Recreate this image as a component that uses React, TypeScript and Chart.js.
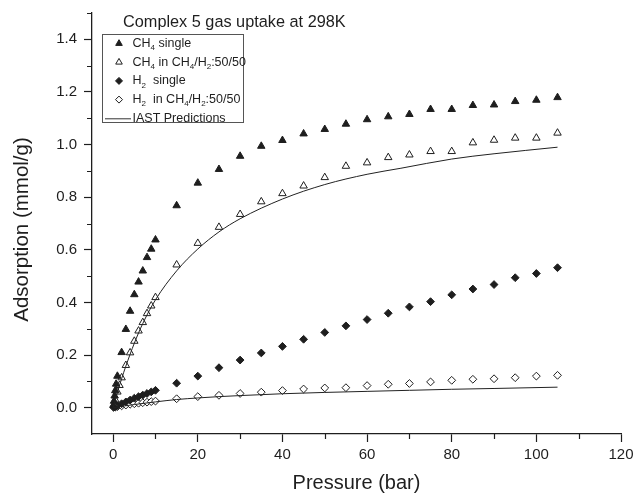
import React, { useEffect, useRef } from 'react';
import { Chart, registerables } from 'chart.js';

Chart.register(...registerables);

// ---- Data (pressure in bar, adsorption in mmol/g) ----
const ch4SingleP = [0.1, 0.2, 0.35, 0.5, 0.7, 1, 2, 3, 4, 5, 6, 7, 8, 9, 10, 15, 20, 25, 30, 35, 40, 45, 50, 55, 60, 65, 70, 75, 80, 85, 90, 95, 100, 105];
const ch4SingleQ = [0.01, 0.025, 0.045, 0.065, 0.09, 0.12, 0.21, 0.298, 0.367, 0.43, 0.478, 0.52, 0.571, 0.603, 0.638, 0.768, 0.854, 0.906, 0.956, 0.994, 1.016, 1.041, 1.058, 1.078, 1.095, 1.106, 1.115, 1.134, 1.134, 1.149, 1.151, 1.164, 1.169, 1.179];

const ch4MixP = [0.2, 0.5, 1, 1.5, 2, 3, 4, 5, 6, 7, 8, 9, 10, 15, 20, 25, 30, 35, 40, 45, 50, 55, 60, 65, 70, 75, 80, 85, 90, 95, 100, 105];
const ch4MixQ = [0.012, 0.03, 0.06, 0.085, 0.114, 0.161, 0.209, 0.253, 0.292, 0.324, 0.358, 0.387, 0.419, 0.543, 0.625, 0.686, 0.735, 0.783, 0.814, 0.843, 0.875, 0.918, 0.931, 0.951, 0.961, 0.974, 0.974, 1.007, 1.017, 1.025, 1.025, 1.044];

const h2SingleP = [0.1, 0.5, 1, 2, 3, 4, 5, 6, 7, 8, 9, 10, 15, 20, 25, 30, 35, 40, 45, 50, 55, 60, 65, 70, 75, 80, 85, 90, 95, 100, 105];
const h2SingleQ = [0.001, 0.004, 0.008, 0.015, 0.022, 0.029, 0.036, 0.042, 0.048, 0.054, 0.06, 0.066, 0.093, 0.12, 0.152, 0.181, 0.208, 0.233, 0.26, 0.286, 0.311, 0.335, 0.359, 0.383, 0.403, 0.429, 0.451, 0.468, 0.494, 0.51, 0.532];

const h2MixP = [0.5, 1, 2, 3, 4, 5, 6, 7, 8, 9, 10, 15, 20, 25, 30, 35, 40, 45, 50, 55, 60, 65, 70, 75, 80, 85, 90, 95, 100, 105];
const h2MixQ = [0.002, 0.004, 0.007, 0.01, 0.013, 0.015, 0.017, 0.019, 0.021, 0.023, 0.025, 0.034, 0.042, 0.047, 0.054, 0.059, 0.065, 0.071, 0.075, 0.076, 0.084, 0.089, 0.092, 0.098, 0.104, 0.108, 0.11, 0.114, 0.12, 0.123];

const iastCh4P = [0, 0.5, 1, 2, 3, 5, 7, 10, 15, 20, 25, 30, 40, 50, 60, 68, 80, 90, 105];
const iastCh4Q = [0, 0.03, 0.058, 0.11, 0.158, 0.245, 0.32, 0.41, 0.52, 0.603, 0.668, 0.718, 0.793, 0.848, 0.887, 0.91, 0.945, 0.965, 0.99];

const iastH2P = [0, 1, 2, 5, 10, 15, 20, 25, 30, 40, 50, 60, 70, 80, 90, 105];
const iastH2Q = [0, 0.002, 0.005, 0.012, 0.022, 0.031, 0.037, 0.042, 0.046, 0.053, 0.058, 0.062, 0.066, 0.07, 0.073, 0.078];

const xMajorTicks = [0, 20, 40, 60, 80, 100, 120];
const xMinorTicks = [10, 30, 50, 70, 90, 110];
const yMajorTicks = [0, 0.2, 0.4, 0.6, 0.8, 1.0, 1.2, 1.4];
const yMinorTicks = [0.1, 0.3, 0.5, 0.7, 0.9, 1.1, 1.3, 1.5];

const titleText = 'Complex 5 gas uptake at 298K';
const xTitle = 'Pressure (bar)';
const yTitle = 'Adsorption (mmol/g)';

// legend labels as [text, isSubscript] segments
const legendLabels: [string, boolean][][] = [
  [['CH', false], ['4', true], [' single', false]],
  [['CH', false], ['4', true], [' in CH', false], ['4', true], ['/H', false], ['2', true], [':50/50', false]],
  [['H', false], ['2', true], ['  single', false]],
  [['H', false], ['2', true], ['  in CH', false], ['4', true], ['/H', false], ['2', true], [':50/50', false]],
  [['IAST Predictions', false]],
];
const legendKinds = ['triFill', 'triOpen', 'diaFill', 'diaOpen', 'line'];

const FONT = "'Liberation Sans', Arial, Helvetica, sans-serif";
const INK = '#1e1e1e';

const toPts = (xs: number[], ys: number[]) => xs.map((x, i) => ({ x, y: ys[i] }));

function drawMarker(ctx: CanvasRenderingContext2D, kind: string, x: number, y: number, r: number) {
  ctx.save();
  ctx.lineWidth = 1;
  ctx.strokeStyle = INK;
  ctx.fillStyle = kind.endsWith('Fill') ? INK : '#ffffff';
  ctx.beginPath();
  if (kind.startsWith('tri')) {
    for (let k = 0; k < 3; k++) {
      const a = (k * 2 * Math.PI) / 3;
      const px = x + Math.sin(a) * r;
      const py = y - Math.cos(a) * r;
      if (k === 0) ctx.moveTo(px, py);
      else ctx.lineTo(px, py);
    }
  } else {
    ctx.moveTo(x - r, y);
    ctx.lineTo(x, y - r);
    ctx.lineTo(x + r, y);
    ctx.lineTo(x, y + r);
  }
  ctx.closePath();
  ctx.fill();
  ctx.stroke();
  ctx.restore();
}

const overlayPlugin = {
  id: 'overlay',
  afterDraw(chart: any) {
    const ctx: CanvasRenderingContext2D = chart.ctx;
    const ca = chart.chartArea;
    const xs = chart.scales.x;
    const ys = chart.scales.y;
    ctx.save();
    // minor ticks
    ctx.strokeStyle = INK;
    ctx.lineWidth = 1.2;
    ctx.beginPath();
    xMinorTicks.forEach((v) => {
      const px = Math.round(xs.getPixelForValue(v)) + 0.5;
      ctx.moveTo(px, ca.bottom);
      ctx.lineTo(px, ca.bottom + 5);
    });
    yMinorTicks.forEach((v) => {
      const py = Math.round(ys.getPixelForValue(v)) + 0.5;
      ctx.moveTo(ca.left, py);
      ctx.lineTo(ca.left - 5, py);
    });
    ctx.stroke();

    // chart title inside plot area
    ctx.fillStyle = INK;
    ctx.font = `16.3px ${FONT}`;
    ctx.textAlign = 'left';
    ctx.textBaseline = 'middle';
    ctx.fillText(titleText, ca.left + 31, 23);

    // axis titles
    ctx.font = `20px ${FONT}`;
    ctx.textAlign = 'center';
    ctx.fillText(xTitle, (ca.left + ca.right) / 2, 483);
    ctx.save();
    ctx.translate(22, (ca.top + ca.bottom) / 2 + 6);
    ctx.rotate(-Math.PI / 2);
    ctx.font = `20.5px ${FONT}`;
    ctx.fillText(yTitle, 0, 0);
    ctx.restore();

    // legend
    const lx = ca.left + 10;
    const ly = 34;
    const lw = 141;
    const lh = 88;
    ctx.fillStyle = '#ffffff';
    ctx.fillRect(lx, ly, lw, lh);
    ctx.strokeStyle = '#555';
    ctx.lineWidth = 1;
    ctx.strokeRect(lx + 0.5, ly + 0.5, lw, lh);
    legendLabels.forEach((segs, i) => {
      const cy = ly + 9.5 + i * 18.7;
      const kind = legendKinds[i];
      if (kind === 'line') {
        ctx.strokeStyle = '#333';
        ctx.lineWidth = 1;
        ctx.beginPath();
        ctx.moveTo(lx + 3, cy + 0.5);
        ctx.lineTo(lx + 29, cy + 0.5);
        ctx.stroke();
      } else {
        drawMarker(ctx, kind, lx + 17, cy, kind.startsWith('tri') ? 3.8 : 3.5);
      }
      let tx = lx + 30.5;
      ctx.textAlign = 'left';
      ctx.textBaseline = 'middle';
      ctx.fillStyle = INK;
      segs.forEach(([t, sub]) => {
        ctx.font = sub ? `8px ${FONT}` : `12.5px ${FONT}`;
        ctx.fillText(t, tx, sub ? cy + 4.5 : cy);
        tx += ctx.measureText(t).width;
      });
    });
    ctx.restore();
  },
};

export default function App() {
  const ref = useRef<HTMLCanvasElement | null>(null);
  useEffect(() => {
    if (!ref.current) return;
    const markerBase = {
      showLine: false,
      borderColor: INK,
      borderWidth: 1,
      order: 1,
    };
    const chart = new Chart(ref.current, {
      type: 'scatter',
      data: {
        datasets: [
          {
            ...markerBase,
            label: 'CH4 single',
            data: toPts(ch4SingleP, ch4SingleQ),
            pointStyle: 'triangle',
            pointRadius: 4.3,
            backgroundColor: INK,
          },
          {
            ...markerBase,
            label: 'CH4 in CH4/H2:50/50',
            data: toPts(ch4MixP, ch4MixQ),
            pointStyle: 'triangle',
            pointRadius: 4.3,
            backgroundColor: '#ffffff',
          },
          {
            ...markerBase,
            label: 'H2 single',
            data: toPts(h2SingleP, h2SingleQ),
            pointStyle: 'rectRot',
            pointRadius: 3.9,
            backgroundColor: INK,
          },
          {
            ...markerBase,
            label: 'H2 in CH4/H2:50/50',
            data: toPts(h2MixP, h2MixQ),
            pointStyle: 'rectRot',
            pointRadius: 3.9,
            backgroundColor: '#ffffff',
          },
          {
            label: 'IAST Predictions',
            data: toPts(iastCh4P, iastCh4Q),
            showLine: true,
            pointRadius: 0,
            borderColor: '#222',
            borderWidth: 1,
            cubicInterpolationMode: 'monotone',
            order: 0,
          },
          {
            label: 'IAST Predictions H2',
            data: toPts(iastH2P, iastH2Q),
            showLine: true,
            pointRadius: 0,
            borderColor: '#222',
            borderWidth: 1,
            cubicInterpolationMode: 'monotone',
            order: 0,
          },
        ] as any,
      },
      options: {
        animation: false,
        responsive: false,
        devicePixelRatio: 1,
        layout: { padding: { top: 13, right: 12, left: 0, bottom: 0 } },
        plugins: {
          legend: { display: false },
          title: { display: false },
          tooltip: { enabled: false },
        },
        scales: {
          x: {
            type: 'linear',
            min: -5,
            max: 120,
            afterBuildTicks: (scale: any) => {
              scale.ticks = xMajorTicks.map((v) => ({ value: v }));
            },
            afterFit: (scale: any) => {
              scale.height = 64;
              scale.paddingLeft = 0;
              scale.paddingRight = 0;
            },
            grid: {
              display: true,
              drawOnChartArea: false,
              drawTicks: true,
              tickLength: 8,
              tickWidth: 1.2,
              tickColor: INK,
            },
            border: { display: true, color: INK, width: 1.3 },
            ticks: {
              color: INK,
              font: { family: FONT, size: 15 },
              padding: 4,
              maxRotation: 0,
              callback: (v: any) => String(v),
            },
          },
          y: {
            type: 'linear',
            min: -0.1,
            max: 1.5,
            afterBuildTicks: (scale: any) => {
              scale.ticks = yMajorTicks.map((v) => ({ value: v }));
            },
            afterFit: (scale: any) => {
              scale.width = 92;
              scale.paddingTop = 0;
              scale.paddingBottom = 0;
            },
            grid: {
              display: true,
              drawOnChartArea: false,
              drawTicks: true,
              tickLength: 8,
              tickWidth: 1.2,
              tickColor: INK,
            },
            border: { display: true, color: INK, width: 1.3 },
            ticks: {
              color: INK,
              font: { family: FONT, size: 15 },
              padding: 7,
              callback: (v: any) => Number(v).toFixed(1),
            },
          },
        },
      } as any,
      plugins: [overlayPlugin],
    });
    return () => chart.destroy();
  }, []);

  return (
    <div style={{ position: 'fixed', left: 0, top: 0, width: 633, height: 498, background: '#fff' }}>
      <canvas ref={ref} width={633} height={498} style={{ width: 633, height: 498, display: 'block' }} />
    </div>
  );
}
